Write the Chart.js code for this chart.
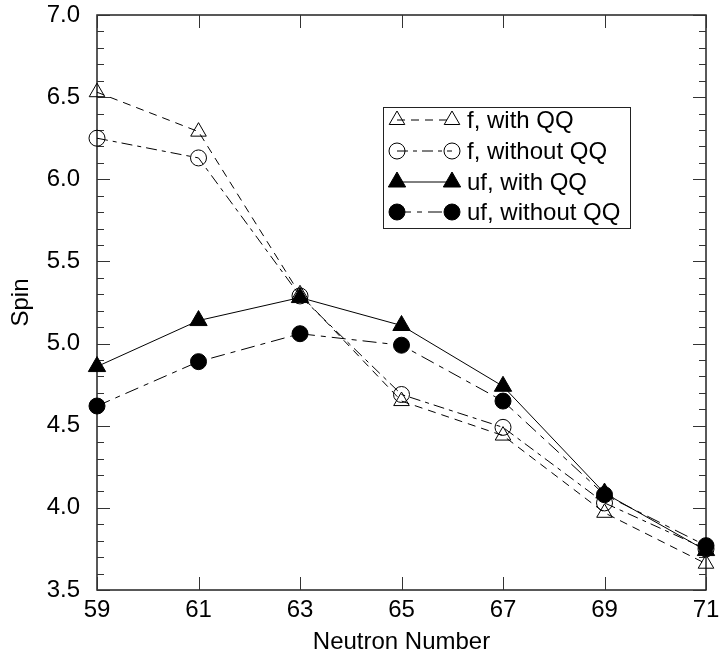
<!DOCTYPE html>
<html>
<head>
<meta charset="utf-8">
<script src="https://cdn.jsdelivr.net/npm/chart.js@4.4.1/dist/chart.umd.min.js"></script>
<style>
  html, body { margin: 0; padding: 0; background: #ffffff; }
  #wrap { width: 720px; height: 662px; }
</style>
</head>
<body>
<div id="wrap"><canvas id="chart" width="720" height="662"></canvas></div>
<script>
// Average spin versus neutron number, four model variants
const neutronNumbers = [59, 61, 63, 65, 67, 69, 71];
const fWithQQ     = [6.53, 6.29, 5.30, 4.65, 4.44, 3.97, 3.66];
const fWithoutQQ  = [6.25, 6.13, 5.29, 4.69, 4.49, 4.03, 3.75];
const ufWithQQ    = [4.86, 5.14, 5.28, 5.11, 4.74, 4.09, 3.74];
const ufWithoutQQ = [4.62, 4.89, 5.06, 4.99, 4.65, 4.08, 3.77];
const seriesLabels = ['f, with QQ', 'f, without QQ', 'uf, with QQ', 'uf, without QQ'];
const xTicks = [59, 61, 63, 65, 67, 69, 71];
const yTicks = [3.5, 4.0, 4.5, 5.0, 5.5, 6.0, 6.5, 7.0];

const FONT = '"Liberation Sans", Arial, sans-serif';
const FONT_SIZE = 24;
const INK = '#000000';

function pts(values) {
  return neutronNumbers.map((n, i) => ({ x: n, y: values[i] }));
}

function series(label, values, style, filled, radius, dash, order) {
  return {
    label: label,
    data: pts(values),
    borderColor: INK,
    borderWidth: 1,
    borderDash: dash,
    backgroundColor: filled ? INK : 'rgba(0,0,0,0)',
    pointStyle: style,
    pointRadius: radius,
    pointHoverRadius: radius,
    pointBorderWidth: 1,
    pointBorderColor: INK,
    pointBackgroundColor: filled ? INK : 'rgba(0,0,0,0)',
    tension: 0,
    fill: false,
    clip: false,
    order: order
  };
}

// Closed frame with inward ticks on all four sides
const framePlugin = {
  id: 'frame',
  beforeDatasetsDraw(chart) {
    const { ctx, chartArea: a, scales } = chart;
    const xs = scales.x, ys = scales.y;
    ctx.save();
    ctx.strokeStyle = '#222222';
    ctx.lineWidth = 1.5;
    ctx.strokeRect(a.left, a.top, a.right - a.left, a.bottom - a.top);
    ctx.lineWidth = 1;
    ctx.strokeStyle = '#333333';
    ctx.beginPath();
    for (let k = 35; k <= 70; k++) {
      const py = Math.round(ys.getPixelForValue(k / 10)) + 0.5;
      const len = (k % 5 === 0) ? 13 : 7;
      ctx.moveTo(a.left, py); ctx.lineTo(a.left + len, py);
      ctx.moveTo(a.right, py); ctx.lineTo(a.right - len, py);
    }
    xTicks.forEach(v => {
      const px = Math.round(xs.getPixelForValue(v)) + 0.5;
      ctx.moveTo(px, a.bottom); ctx.lineTo(px, a.bottom - 13);
      ctx.moveTo(px, a.top); ctx.lineTo(px, a.top + 13);
    });
    ctx.stroke();
    ctx.restore();
  }
};

// Boxed key: a line sample with a marker at each end, then the label
const keyPlugin = {
  id: 'key',
  afterDraw(chart) {
    const { ctx, chartArea: a } = chart;
    const boxL = a.left + 286, boxT = a.top + 92, boxW = 247, boxH = 121;
    const x1 = boxL + 14, x2 = boxL + 69, tx = boxL + 84;
    const rowY = [boxT + 13, boxT + 44, boxT + 75, boxT + 105];
    ctx.save();
    ctx.fillStyle = '#ffffff';
    ctx.fillRect(boxL, boxT, boxW, boxH);
    ctx.strokeStyle = '#222222';
    ctx.lineWidth = 1;
    ctx.strokeRect(boxL + 0.5, boxT + 0.5, boxW, boxH);
    chart.data.datasets.forEach((ds, i) => {
      const y = rowY[i];
      ctx.save();
      ctx.strokeStyle = INK;
      ctx.lineWidth = ds.borderWidth;
      ctx.setLineDash(ds.borderDash || []);
      ctx.beginPath();
      ctx.moveTo(x1, y); ctx.lineTo(x2, y);
      ctx.stroke();
      ctx.restore();
      const opts = { pointStyle: ds.pointStyle, radius: ds.pointRadius, rotation: 0, borderWidth: 1 };
      [x1, x2].forEach(px => {
        ctx.save();
        ctx.setLineDash([]);
        ctx.strokeStyle = INK;
        ctx.fillStyle = ds.pointBackgroundColor;
        ctx.lineWidth = 1;
        Chart.helpers.drawPoint(ctx, opts, px, y);
        ctx.restore();
      });
      ctx.fillStyle = INK;
      ctx.font = FONT_SIZE + 'px ' + FONT;
      ctx.textBaseline = 'middle';
      ctx.textAlign = 'left';
      ctx.fillText(ds.label, tx, y + 1);
    });
    ctx.restore();
  }
};

new Chart(document.getElementById('chart'), {
  type: 'line',
  data: {
    datasets: [
      series(seriesLabels[0], fWithQQ, 'triangle', false, 9, [8, 6], 3),
      series(seriesLabels[1], fWithoutQQ, 'circle', false, 8, [11, 5, 4, 5], 2),
      series(seriesLabels[2], ufWithQQ, 'triangle', true, 10, [], 1),
      series(seriesLabels[3], ufWithoutQQ, 'circle', true, 8, [14, 6, 5, 6], 0)
    ]
  },
  options: {
    responsive: false,
    animation: false,
    devicePixelRatio: 1,
    layout: { padding: { left: 0, right: 14, top: 15, bottom: 0 } },
    plugins: { legend: { display: false }, tooltip: { enabled: false } },
    scales: {
      x: {
        type: 'linear',
        min: 59, max: 71,
        afterBuildTicks(scale) { scale.ticks = xTicks.map(v => ({ value: v })); },
        afterFit(scale) { scale.height = 72; scale.paddingLeft = 0; scale.paddingRight = 0; },
        grid: { display: false, drawTicks: false },
        border: { display: false },
        ticks: {
          color: INK, padding: 6,
          font: { family: FONT, size: FONT_SIZE },
          callback: v => String(v)
        },
        title: {
          display: true, text: 'Neutron Number', color: INK,
          font: { family: FONT, size: FONT_SIZE },
          padding: { top: 0, bottom: 5 }
        }
      },
      y: {
        type: 'linear',
        min: 3.5, max: 7.0,
        afterBuildTicks(scale) { scale.ticks = yTicks.map(v => ({ value: v })); },
        afterFit(scale) { scale.width = 97; scale.paddingTop = 0; scale.paddingBottom = 0; },
        grid: { display: false, drawTicks: false },
        border: { display: false },
        ticks: {
          color: INK, padding: 17,
          font: { family: FONT, size: FONT_SIZE },
          callback: v => v.toFixed(1)
        },
        title: {
          display: true, text: 'Spin', color: INK,
          font: { family: FONT, size: FONT_SIZE },
          padding: { top: 7, bottom: 0 }
        }
      }
    }
  },
  plugins: [framePlugin, keyPlugin]
});
</script>
</body>
</html>
